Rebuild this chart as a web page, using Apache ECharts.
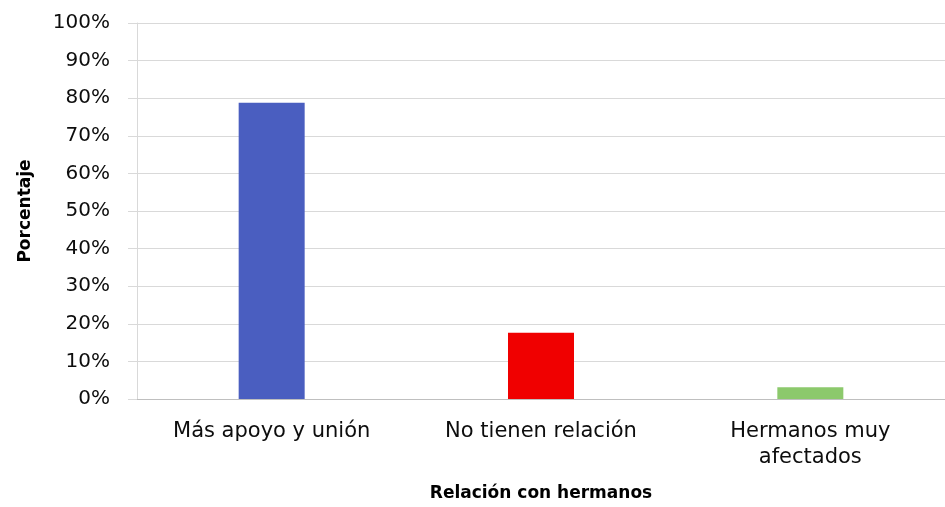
<!DOCTYPE html>
<html>
<head>
<meta charset="utf-8">
<title>Relación con hermanos</title>
<script src="https://cdn.jsdelivr.net/npm/echarts@6/dist/echarts.min.js"></script>
<style>
  html, body { margin: 0; padding: 0; background: #ffffff; }
  #chart { width: 945px; height: 507px; }
</style>
</head>
<body>
<div id="chart"></div>
<script>
// Categories and percentages
const categories = ['Más apoyo y unión', 'No tienen relación', 'Hermanos muy\nafectados'];
const values = [78.8, 17.6, 3.1];
const barColors = ['#4a5ec0', '#f00000', '#8cc96c'];
const yTicks = [0, 10, 20, 30, 40, 50, 60, 70, 80, 90, 100];

const chart = echarts.init(document.getElementById('chart'), null, { renderer: 'canvas' });

chart.setOption({
  animation: false,
  backgroundColor: '#ffffff',
  grid: { left: 137, right: 0, top: 23, bottom: 106, containLabel: false },
  xAxis: {
    type: 'category',
    data: categories,
    name: 'Relación con hermanos',
    nameLocation: 'middle',
    nameGap: 86,
    nameTextStyle: { fontFamily: 'DejaVu Sans', fontWeight: 'bold', fontSize: 17, color: '#000000' },
    axisLine: { show: true, lineStyle: { color: '#bfbfbf', width: 1 } },
    axisTick: { show: false },
    axisLabel: {
      interval: 0,
      margin: 20,
      fontFamily: 'DejaVu Sans',
      fontSize: 21,
      lineHeight: 26,
      color: '#0d0d0d',
      align: 'center'
    }
  },
  yAxis: {
    type: 'value',
    min: yTicks[0],
    max: yTicks[yTicks.length - 1],
    interval: 10,
    name: 'Porcentaje',
    nameLocation: 'middle',
    nameGap: 103,
    nameRotate: 90,
    nameTextStyle: { fontFamily: 'DejaVu Sans', fontWeight: 'bold', fontSize: 17, color: '#000000' },
    axisLine: { show: true, lineStyle: { color: '#d9d9d9', width: 1 } },
    axisTick: { show: true, inside: false, length: 9, lineStyle: { color: '#d9d9d9' } },
    axisLabel: {
      margin: 27,
      fontFamily: 'DejaVu Sans',
      fontSize: 20,
      color: '#0d0d0d',
      formatter: v => v + '%'
    },
    splitLine: { show: true, lineStyle: { color: '#d9d9d9', width: 1 } }
  },
  series: [{
    type: 'bar',
    data: values.map((v, i) => ({ value: v, itemStyle: { color: barColors[i] } })),
    barWidth: 66,
    label: { show: false }
  }]
});
</script>
</body>
</html>
